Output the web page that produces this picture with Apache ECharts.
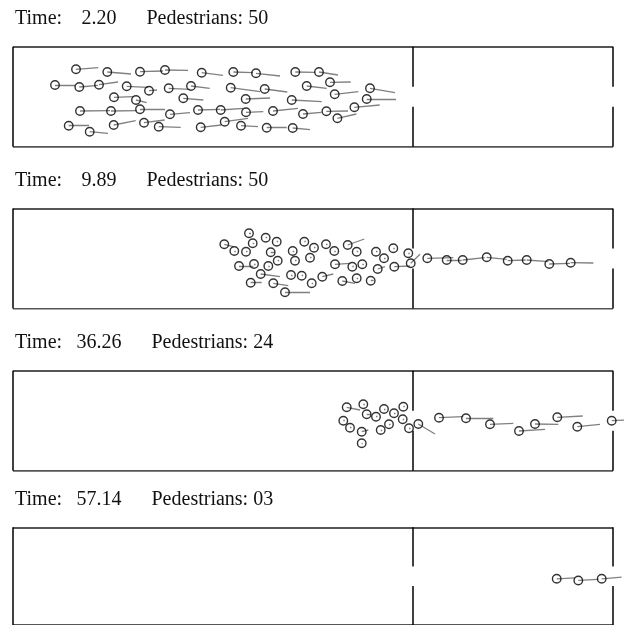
<!DOCTYPE html>
<html>
<head>
<meta charset="utf-8">
<script src="https://cdn.jsdelivr.net/npm/echarts@6/dist/echarts.min.js"></script>
<style>
  html, body { margin: 0; padding: 0; background: #fff; }
  #main { width: 624px; height: 625px; }
</style>
</head>
<body>
<div id="main"></div>
<script>
// snapshot labels
const times = ['2.20', '9.89', '36.26', '57.14'];
const counts = ['50', '50', '24', '03'];

// room 60 x 10, partition at x = 40, doors between y = 4 and 6
const hWalls = [[[0, 0], [60, 0]], [[0, 10], [60, 10]]];
const vWalls = [
  [[0, 0], [0, 10]],
  [[40, 0], [40, 4]], [[40, 6], [40, 10]],
  [[60, 0], [60, 4]], [[60, 6], [60, 10]]
];

// pedestrians: [x, y, vx, vy]
const peds1 = [
  [6.3, 7.74, 2.23, 0.16], [9.43, 7.47, 2.37, -0.2], [12.7, 7.5, 2.3, 0.07], [15.2, 7.67, 2.3, -0.03],
  [18.87, 7.4, 2.13, -0.26], [22.03, 7.47, 1.97, -0.07], [24.3, 7.34, 2.4, -0.27], [28.23, 7.47, 1.97, -0.03],
  [30.6, 7.47, 1.9, -0.3],
  [4.2, 6.17, 2.0, 0], [6.63, 5.97, 1.87, 0.17], [8.6, 6.2, 1.9, 0.27], [11.37, 6.04, 2.13, -0.1],
  [13.6, 5.6, 0.8, 0.07], [15.57, 5.84, 2.13, -0.1], [17.8, 6.07, 1.87, -0.23], [21.77, 5.9, 2.93, -0.4],
  [25.17, 5.77, 2.26, -0.3], [29.37, 6.07, 2.0, -0.23], [31.7, 6.44, 2.07, 0.03], [32.17, 5.24, 2.36, 0.26],
  [35.7, 5.84, 2.5, -0.44], [35.37, 4.77, 2.93, 0],
  [10.1, 4.94, 1.93, 0.06], [12.3, 4.67, 1.07, -0.27], [17.03, 4.84, 2.0, -0.17], [23.27, 4.77, 2.43, 0.1],
  [27.87, 4.67, 3.0, -0.17],
  [6.7, 3.57, 3.0, 0.03], [9.8, 3.57, 2.57, 0.03], [12.7, 3.74, 2.5, 0], [15.7, 3.24, 2.0, 0.16],
  [18.5, 3.67, 2.2, 0.07], [20.77, 3.67, 2.26, 0.17], [23.3, 3.44, 1.73, 0.06], [26.0, 3.57, 2.5, 0.27],
  [29.0, 3.27, 1.84, 0.17], [31.34, 3.54, 2.16, 0.03], [34.14, 3.94, 2.53, 0.23], [32.44, 2.84, 1.9, 0.43],
  [5.57, 2.1, 2.03, 0.04], [7.67, 1.5, 1.83, -0.16], [10.07, 2.17, 2.2, 0.43], [13.1, 2.4, 2.07, 0.27],
  [14.57, 2.0, 2.2, -0.06], [18.77, 1.94, 2.07, 0.23], [21.17, 2.5, 2.33, 0.34], [22.8, 2.1, 1.7, -0.1],
  [25.37, 1.9, 2.0, 0], [27.97, 1.87, 1.73, -0.17]
];

const peds2 = [
  [23.6, 7.52, 0.2, 0], [25.27, 7.08, 0.15, 0], [26.37, 6.68, 0.15, 0], [23.97, 6.52, 0.15, 0],
  [21.13, 6.42, 0.9, -0.24], [22.13, 5.75, 0.15, 0], [23.3, 5.68, 0.15, 0], [25.77, 5.62, 0.4, 0],
  [27.97, 5.75, 0.15, 0], [29.13, 6.68, 0.15, 0], [30.1, 6.08, 0.15, 0], [31.3, 6.42, 0.15, 0],
  [32.13, 5.75, 0.15, 0], [33.47, 6.35, 1.66, 0.6], [34.37, 5.68, 0.15, 0], [36.3, 5.68, 0.15, 0],
  [38.03, 6.02, 0.15, 0], [39.53, 5.52, 0.15, 0], [37.1, 5.02, 0.15, 0], [26.47, 4.78, 0.15, 0],
  [25.53, 4.25, 0.15, 0], [24.1, 4.45, 0.15, 0], [22.6, 4.25, 1.43, 0], [28.2, 4.78, 0.15, 0],
  [29.7, 5.08, 0.15, 0], [32.2, 4.42, 1.5, 0.1], [33.93, 4.18, 0.15, 0], [34.93, 4.42, 0.15, 0],
  [36.47, 3.95, 0.73, 0.23], [38.13, 4.18, 1.57, 0.07], [39.77, 4.52, 0.93, 0.9], [24.77, 3.45, 1.93, -0.27],
  [27.8, 3.35, 0.15, 0], [28.87, 3.28, 0.15, 0], [30.93, 3.18, 1.1, 0.27], [23.77, 2.58, 1.1, 0.04],
  [26.03, 2.52, 1.5, -0.24], [29.87, 2.52, 0.15, 0], [32.93, 2.75, 1.27, -0.23], [34.37, 3.02, 0.15, 0],
  [35.77, 2.78, 0.3, 0], [27.2, 1.62, 2.5, 0],
  [41.43, 5.02, 2.6, 0.06], [43.37, 4.85, 1.5, 0], [44.97, 4.85, 2.2, 0.23], [47.37, 5.12, 2.0, -0.2],
  [49.47, 4.78, 1.8, 0.07], [51.37, 4.85, 2.16, -0.17], [53.63, 4.45, 2.07, 0.07], [55.77, 4.58, 2.26, -0.03]
];

const peds3 = [
  [33.37, 6.34, 1.33, -0.27], [35.03, 6.64, 0.15, 0], [35.37, 5.64, 0.4, 0], [36.3, 5.4, 0.15, 0],
  [37.1, 6.17, 0.15, 0], [38.1, 5.74, 0.15, 0], [39.03, 6.4, 0.15, 0], [33.03, 5.0, 0.15, 0],
  [33.7, 4.3, 0.15, 0], [34.87, 3.9, 0.66, 0.17], [34.87, 2.74, 0.1, 0], [36.77, 4.07, 0.15, 0],
  [37.6, 4.64, 0.15, 0], [38.97, 5.14, 0.15, 0], [39.6, 4.24, 0.15, 0], [40.53, 4.67, 1.67, -1.0],
  [42.6, 5.3, 2.43, 0.1], [45.3, 5.24, 2.73, 0], [47.7, 4.64, 2.33, 0.1], [50.6, 3.97, 2.6, 0.17],
  [52.2, 4.67, 2.33, -0.03], [54.43, 5.34, 2.54, 0.13], [56.43, 4.4, 2.27, 0.24], [59.87, 5.0, 1.3, 0.07]
];

const peds4 = [
  [54.37, 4.73, 1.83, 0.1], [56.53, 4.56, 2.0, 0.1], [58.87, 4.73, 2.0, 0.17]
];

const snapshots = [peds1, peds2, peds3, peds4];
const panelTops = [46.7, 208.5, 370.7, 527.3];

const labelFont = '20px "Liberation Serif", "Times New Roman", serif';
const measure = document.createElement('canvas').getContext('2d');
measure.font = labelFont;

const chart = echarts.init(document.getElementById('main'));

const grids = [], xAxes = [], yAxes = [], series = [], graphics = [];

snapshots.forEach((peds, i) => {
  grids.push({ left: 13, top: panelTops[i], width: 610, height: 100 });
  xAxes.push({ gridIndex: i, type: 'value', min: 0, max: 61, show: false });
  yAxes.push({ gridIndex: i, type: 'value', min: 0, max: 10, show: false });

  series.push({
    type: 'lines', coordinateSystem: 'cartesian2d', xAxisIndex: i, yAxisIndex: i,
    lineStyle: { color: '#555', width: 2, opacity: 1 },
    data: hWalls.map(c => ({ coords: c })), z: 1
  });
  series.push({
    type: 'lines', coordinateSystem: 'cartesian2d', xAxisIndex: i, yAxisIndex: i,
    lineStyle: { color: '#000', width: 1.5, opacity: 1 },
    data: vWalls.map(c => ({ coords: c })), z: 1
  });
  // velocity tails
  series.push({
    type: 'lines', coordinateSystem: 'cartesian2d', xAxisIndex: i, yAxisIndex: i,
    lineStyle: { color: '#808080', width: 1.3, opacity: 1 },
    data: peds.map(p => ({ coords: [[p[0], p[1]], [p[0] + p[2], p[1] + p[3]]] })), z: 2
  });
  series.push({
    type: 'scatter', xAxisIndex: i, yAxisIndex: i,
    symbol: 'circle', symbolSize: 8.5,
    itemStyle: { color: 'rgba(0,0,0,0)', borderColor: '#000', borderWidth: 1.4 },
    data: peds.map(p => [p[0], p[1]]), z: 3
  });

  const ly = panelTops[i] - 28;
  const w = measure.measureText(times[i]).width;
  const st = { font: labelFont, fill: '#111', textVerticalAlign: 'middle', verticalAlign: 'middle' };
  graphics.push(
    { type: 'text', x: 15, y: ly, style: Object.assign({ text: 'Time:' }, st) },
    { type: 'text', x: 99 - w / 2, y: ly, style: Object.assign({ text: times[i] }, st) },
    { type: 'text', x: 99 + w / 2 + 30, y: ly, style: Object.assign({ text: 'Pedestrians: ' + counts[i] }, st) }
  );
});

chart.setOption({
  animation: false,
  grid: grids,
  xAxis: xAxes,
  yAxis: yAxes,
  series: series,
  graphic: graphics
});
</script>
</body>
</html>
